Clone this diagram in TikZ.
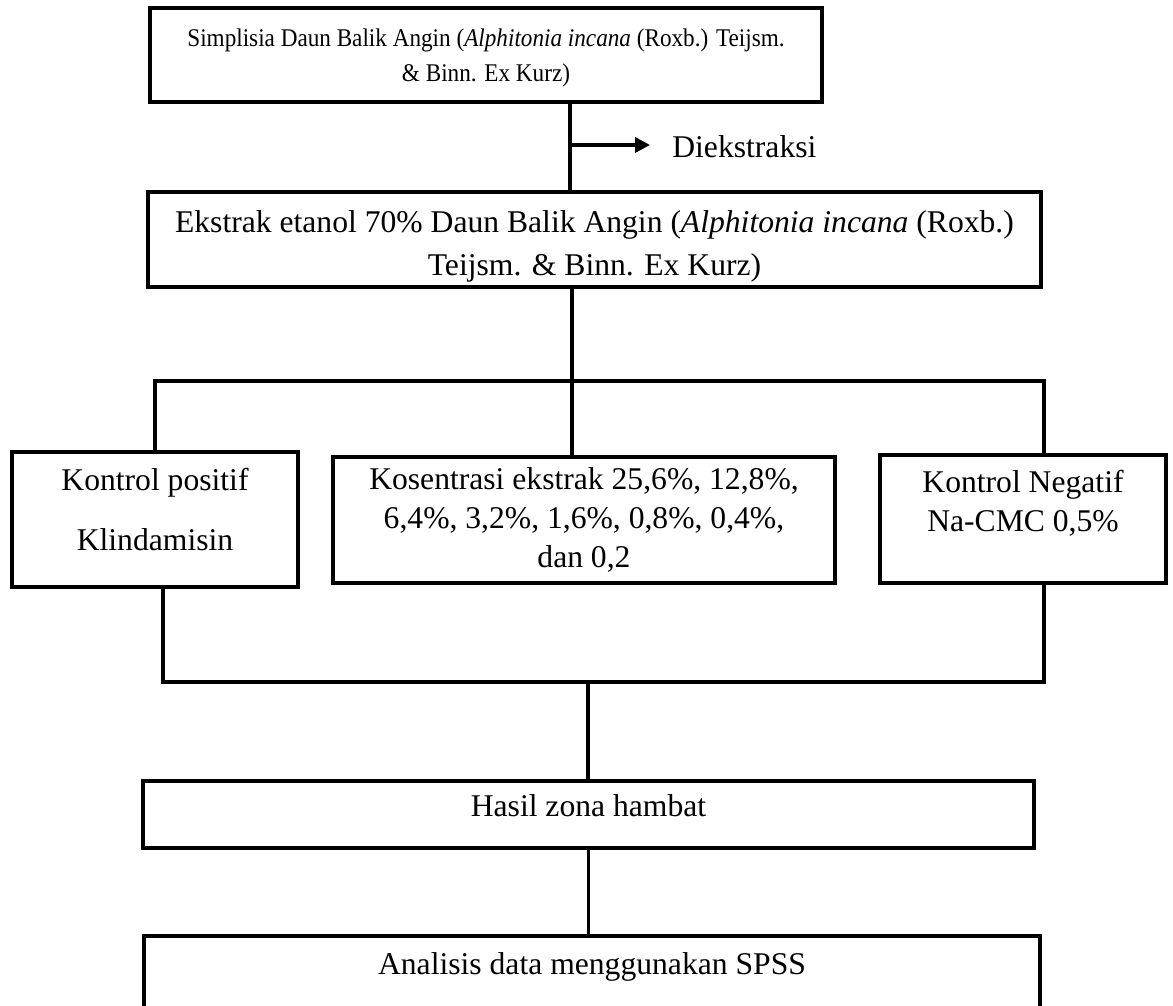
\documentclass[tikz,border=0pt]{standalone}
\usepackage{fontspec}
\setmainfont{Liberation Serif}
\newfontfamily\smallserif{Liberation Serif}[FakeStretch=0.91]
\usepackage{tikz}
\usetikzlibrary{
  arrows.meta,
  positioning,
  calc
}
\tikzset{
  flowbox/.style={
    draw, line width=2.3pt, font=\fontsize{18}{22}\selectfont, align=center, inner sep=2pt
  },
  linkline/.style={line width=2pt},
  arrowline/.style={-{Triangle[length=3mm, width=3mm]}, line width=2pt},
  tag/.style={font=\fontsize{18}{22}\selectfont, inner xsep=4.4mm, inner ysep=0pt, anchor=west}
}

\begin{document}
\begin{tikzpicture}[x=0.02cm, y=-0.02cm]
  \useasboundingbox (0,0) rectangle (1173,1006);
  % boxes
  \node[flowbox, font=\smallserif\fontsize{14.5}{20}\selectfont, minimum width=134.4mm, minimum height=18.8mm, text height=33pt] (simp) at (486,55) {Simplisia Daun Balik Angin (\textit{Alphitonia incana} (Roxb.) Teijsm.\\ \& Binn. Ex Kurz)};
  \node[flowbox, minimum width=178.6mm, minimum height=19mm, text height=45pt] (ekstrak) at (594.5,239.5) {Ekstrak etanol 70\% Daun Balik Angin (\textit{Alphitonia incana} (Roxb.)\\[2.5pt] Teijsm. \& Binn. Ex Kurz)};
  \node[flowbox, minimum width=57.2mm, minimum height=27mm, text depth=4mm] (kpos) at (155,519.5) {Kontrol positif\\[12pt] Klindamisin};
  \node[flowbox, minimum width=100.4mm, minimum height=25.2mm] (konsen) at (584,520) {Kosentrasi ekstrak 25,6\%, 12,8\%,\\ 6,4\%, 3,2\%, 1,6\%, 0,8\%, 0,4\%,\\ dan 0,2};
  \node[flowbox, minimum width=57.2mm, minimum height=25.6mm, text depth=7.3mm] (kneg) at (1023,519) {Kontrol Negatif\\ Na-CMC 0,5\%};
  \node[flowbox, minimum width=178.2mm, minimum height=13.4mm, text depth=3.4mm] (hasil) at (588.5,814.5) {Hasil zona hambat};
  \node[flowbox, minimum width=179.2mm, minimum height=18mm, text depth=7.1mm, anchor=north] (spss) at (592,934) {Analisis data menggunakan SPSS};
  % connectors
  \coordinate (ekst) at (570,145);
  \node[tag] (dk) at (650,147) {Diekstraksi};
  \draw[linkline] (simp.south -| ekst) -- (ekstrak.north -| ekst);
  \draw[arrowline] (ekst) -- (ekst -| dk.west);
  \coordinate (split) at (572,381);
  \coordinate (rdrop) at (1044,381);
  \draw[linkline] (ekstrak.south -| split) -- (split);
  \draw[linkline] (kpos.north) |- (split) -- (rdrop) -- (rdrop |- kneg.north);
  \draw[linkline] (split) -- (split |- konsen.north);
  \coordinate (ljoin) at (163,682);
  \coordinate (rjoin) at (1044,682);
  \coordinate (join) at (588,682);
  \draw[linkline] (ljoin |- kpos.south) -- (ljoin) -- (rjoin) -- (rjoin |- kneg.south);
  \draw[linkline] (join) -- (join |- hasil.north);
  \draw[linkline] (hasil.south) -- (hasil.south |- spss.north);
\end{tikzpicture}
\end{document}
